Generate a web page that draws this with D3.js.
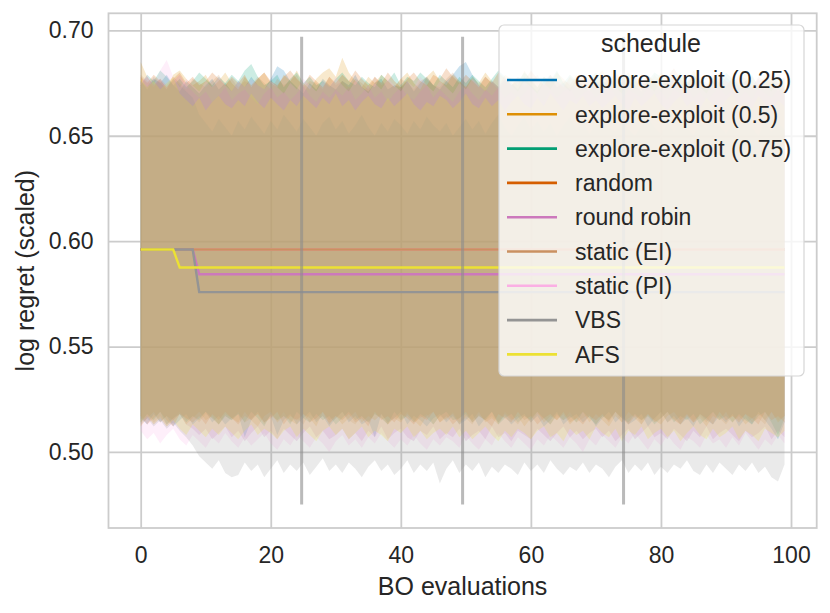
<!DOCTYPE html>
<html lang="en">
<head>
<meta charset="UTF-8">
<title>log regret per schedule</title>
<script src="https://d3js.org/d3.v7.min.js"></script>
<style>
    body{ margin:0; background:#fff; }
    svg text{ font-family:"Liberation Sans", Arial, sans-serif; fill:#262626; }
    .grid line{ stroke:#cccccc; stroke-width:1.8px; }
    .grid path{ display:none; }
    .band{ stroke:none; fill-opacity:0.2; }
    .mean{ fill:none; stroke-width:2.4px; }
</style>
</head>
<body>
<svg width="830" height="613"></svg>
<script>

// schedules, in legend order
let schedules = ["explore-exploit (0.25)", "explore-exploit (0.5)", "explore-exploit (0.75)",
    "random", "round robin", "static (EI)", "static (PI)", "VBS", "AFS"];
let colors = ["#0173b2", "#de8f05", "#029e73", "#d55e00", "#cc78bc", "#ca9161", "#fbafe4", "#949494", "#ece133"];

let xTicks = [0, 20, 40, 60, 80, 100];
let yTicks = [0.50, 0.55, 0.60, 0.65, 0.70];

// where the explore-exploit schedules switch, and how far the marker lines reach
let switchPoints = [24.75, 49.5, 74.25];
let switchSpan = [0.475, 0.697];

// mean lines, as [evaluation, log regret] corners
let meanFlat = [[0, 0.596], [99, 0.596]];
let meanRoundRobin = [[0, 0.596], [8, 0.596], [9, 0.5843], [99, 0.5843]];
let meanVBS = [[0, 0.596], [8, 0.596], [9, 0.5758], [99, 0.5758]];
let meanAFS = [[0, 0.596], [5, 0.596], [6, 0.5875], [99, 0.5875]];

// confidence bands, upper / lower, in thousandths of log regret, evaluations 0..99
let hiEE25 = [676,672,677,675,679,674,671,676,673,670, 674,677,672,675,671,676,673,678,674,672,
    677,683,681,676,673,670,675,672,677,674, 672,676,674,679,673,671,675,677,672,674,
    673,676,671,675,678,674,672,676,679,683, 685,679,674,671,676,673,677,675,672,678,
    674,671,676,679,673,675,672,677,674,671, 676,673,678,675,672,676,674,671,677,675,
    672,676,679,674,671,677,674,672,676,673, 678,675,671,676,673,677,672,675,671,674];
let loEE25 = [516,513,518,514,517,512,515,518,513,516, 519,514,517,513,516,518,507,515,519,514,
    517,508,515,518,513,516,519,514,517,512, 516,519,514,517,513,515,507,518,514,516,
    519,513,517,515,512,516,518,514,517,513, 515,518,512,516,519,514,517,513,516,518,
    514,517,512,515,519,513,516,518,514,517, 512,516,519,514,517,513,515,518,512,516,
    519,514,517,513,516,512,518,515,513,517, 514,518,512,516,513,519,515,511,506,514];

let hiEE50 = [685,678,674,677,672,679,681,677,674,676, 679,673,676,680,675,672,678,674,677,680,
    675,673,679,676,681,675,672,677,680,682, 678,687,680,676,673,678,675,679,676,673,
    677,680,675,672,678,681,676,674,679,676, 673,678,675,680,676,673,679,677,674,681,
    676,673,678,675,680,677,674,679,676,673, 678,681,675,672,677,680,676,673,679,675,
    680,677,673,678,675,681,676,674,679,677, 673,678,675,680,676,673,679,676,674,677];
let loEE50 = [512,516,519,514,517,515,518,513,516,519, 515,517,513,518,516,514,519,515,512,517,
    519,514,517,515,513,518,516,512,519,515, 517,513,516,519,514,517,515,518,513,516,
    514,518,515,512,517,519,514,516,518,513, 517,515,519,514,516,513,518,515,517,512,
    516,519,514,517,515,518,513,516,519,514, 518,515,512,517,514,519,516,513,518,515,
    513,517,519,515,518,514,516,512,517,515, 519,514,517,513,516,518,515,519,514,517];

let hiEE75 = [674,679,676,681,678,674,677,673,676,680, 677,674,678,675,679,676,681,684,678,674,
    676,679,673,677,680,675,678,674,676,673, 677,680,676,674,678,675,673,679,676,680,
    674,678,676,680,677,674,679,676,673,678, 675,679,676,673,677,681,678,674,676,680,
    677,673,678,676,681,675,679,676,673,677, 680,676,674,678,675,679,677,673,676,680,
    678,674,677,680,675,679,676,673,678,675, 680,677,674,676,679,673,677,675,678,672];
let loEE75 = [514,518,515,519,513,516,518,514,517,515, 519,516,513,517,515,518,514,519,516,512,
    518,515,517,513,519,516,514,518,515,517, 513,516,519,515,517,514,518,516,513,519,
    515,517,514,518,516,513,517,519,515,516, 518,514,517,515,519,513,516,518,514,517,
    515,519,516,513,518,515,517,514,519,516, 513,517,515,519,516,514,518,515,517,513,
    516,519,514,517,515,518,513,516,519,515, 517,514,518,515,513,517,519,514,508,516];

let hiRandom = [678,675,679,676,673,677,680,675,678,674, 676,680,677,674,678,675,679,673,677,680,
    676,674,678,681,677,674,679,676,673,678, 675,679,676,681,677,674,678,675,680,676,
    673,677,680,676,674,679,677,682,678,675, 679,676,673,678,675,680,677,674,678,676,
    681,677,674,679,676,673,678,675,679,677, 674,678,676,680,677,673,678,675,679,676,
    674,678,682,677,674,679,676,673,678,680, 676,674,679,677,673,678,676,680,675,678];
let loRandom = [517,513,516,519,515,512,518,516,514,517, 513,518,515,519,516,513,517,515,518,514,
    516,519,513,517,515,518,514,516,519,513, 517,515,518,514,516,512,519,515,517,514,
    518,516,513,517,515,519,514,517,513,516, 519,514,517,515,512,518,516,514,519,515,
    517,513,516,518,515,519,514,516,513,517, 515,518,514,519,516,513,517,515,518,514,
    516,519,515,513,517,514,518,516,513,519, 515,517,514,518,516,513,519,515,517,514];

let hiRoundRobin = [675,678,674,677,673,676,679,674,671,668, 671,666,669,673,667,670,672,668,665,670,
    673,668,671,667,670,674,669,666,671,668, 672,669,673,667,670,674,668,671,666,670,
    673,669,667,671,674,668,672,669,666,671, 674,670,667,672,669,673,668,671,667,670,
    674,669,666,672,668,671,673,667,670,672, 668,671,674,669,667,672,670,668,673,669,
    671,667,672,670,674,668,671,666,670,673, 669,672,668,671,667,673,670,668,672,669];
let loRoundRobin = [514,517,513,516,512,515,518,513,511,508, 511,506,509,512,507,510,505,509,512,507,
    510,506,511,508,505,509,512,507,510,506, 508,511,506,509,505,510,507,512,506,509,
    511,507,505,510,508,512,506,509,507,511, 505,508,510,506,512,507,509,505,510,508,
    506,511,508,505,509,512,507,510,506,509, 511,507,510,505,508,511,506,509,512,507,
    509,506,511,508,505,510,507,512,506,509, 511,508,505,510,507,509,512,506,510,507];

let hiStaticEI = [679,676,673,677,674,678,675,672,677,675, 673,676,679,674,677,673,676,674,678,675,
    672,677,674,676,679,673,676,675,672,678, 674,676,673,677,675,672,678,674,676,673,
    677,675,672,676,678,674,673,677,680,676, 673,677,674,678,675,672,676,674,677,673,
    676,679,674,677,673,676,675,672,677,674, 676,673,678,675,672,677,674,676,673,679,
    675,672,677,674,676,673,678,675,672,676, 674,677,673,676,678,674,672,677,675,673];
let loStaticEI = [515,518,514,517,513,516,519,515,517,514, 518,516,513,517,515,519,514,516,518,513,
    517,515,519,514,516,513,518,515,517,514, 516,519,515,513,517,514,518,516,513,517,
    515,519,514,516,518,513,517,515,519,514, 516,513,518,515,517,514,519,516,513,517,
    514,518,516,513,517,515,519,514,516,518, 513,517,515,519,514,516,518,513,517,515,
    519,514,516,513,518,515,517,514,519,516, 513,517,515,518,514,516,513,519,515,517];

let hiStaticPI = [675,679,674,681,686,678,673,677,674,671, 676,673,678,674,671,676,673,677,674,672,
    676,673,670,675,672,677,674,671,676,673, 678,674,671,676,673,670,675,672,677,674,
    671,676,673,678,674,671,676,673,670,675, 672,677,674,671,676,673,678,674,671,676,
    673,670,675,672,677,674,671,676,673,678, 674,671,676,673,670,675,672,677,674,671,
    676,673,678,674,671,676,673,670,675,672, 677,674,671,676,673,678,674,671,676,673];
let loStaticPI = [510,506,509,504,508,511,506,503,508,505, 502,507,504,509,505,502,507,503,506,509,
    504,501,506,503,508,505,502,507,504,500, 505,508,503,506,502,507,504,509,505,502,
    506,503,508,504,501,506,503,507,505,502, 508,504,501,506,503,509,505,502,507,504,
    501,506,503,508,505,502,507,504,500,506, 503,508,505,502,507,504,509,505,501,506,
    503,508,504,501,507,505,502,508,504,506, 502,507,503,509,505,501,506,503,508,504];

let hiVBS = [676,673,678,675,672,677,674,671,668,660, 656,652,658,654,650,657,653,659,655,651,
    657,653,660,656,652,658,654,650,656,659, 653,657,651,655,660,654,650,656,652,658,
    655,651,657,653,659,655,652,656,650,654, 658,653,657,651,656,660,654,650,655,659,
    653,657,652,656,650,655,659,653,657,651, 656,660,654,652,657,653,650,655,659,654,
    651,656,652,658,654,650,657,653,659,655, 651,656,653,658,654,650,657,652,656,653];
let loVBS = [513,516,512,515,511,514,510,507,503,498, 495,492,496,490,488,489,495,491,494,488,
    492,496,490,494,491,495,489,493,497,491, 494,490,495,492,488,493,496,491,494,489,
    492,496,490,494,491,495,485,492,496,490, 494,491,495,488,493,490,494,492,489,495,
    491,494,490,496,492,489,493,491,495,490, 494,492,488,493,496,490,494,491,495,489,
    493,490,494,492,496,491,489,494,490,495, 492,489,494,491,495,490,493,488,486,494];

let hiAFS = [677,673,676,672,675,678,670,667,664,668, 662,666,669,665,663,667,664,670,666,663,
    668,665,662,667,664,669,666,663,668,665, 670,664,667,662,666,669,665,663,668,664,
    667,670,665,662,666,664,669,667,663,666, 670,665,663,668,664,667,662,666,669,665,
    663,668,664,670,666,662,667,665,669,664, 667,663,666,669,665,662,668,664,667,670,
    665,662,666,669,664,667,663,668,665,662, 667,670,664,666,663,669,665,662,667,664];
let loAFS = [514,517,513,516,512,515,511,508,513,510, 507,511,508,512,509,506,510,513,508,511,
    509,506,510,512,507,511,508,505,510,512, 508,511,506,509,512,507,510,508,505,511,
    509,512,507,510,506,509,511,508,512,507, 510,506,509,512,508,505,510,507,511,509,
    506,510,512,507,509,505,511,508,510,506, 512,509,507,511,505,510,508,512,506,509,
    511,507,510,505,509,512,508,506,511,507, 509,512,506,510,508,505,511,509,507,510];

let highs = [hiEE25, hiEE50, hiEE75, hiRandom, hiRoundRobin, hiStaticEI, hiStaticPI, hiVBS, hiAFS];
let lows = [loEE25, loEE50, loEE75, loRandom, loRoundRobin, loStaticEI, loStaticPI, loVBS, loAFS];
let means = [meanFlat, meanFlat, meanFlat, meanFlat, meanRoundRobin, meanFlat, meanFlat, meanVBS, meanAFS];
// static (PI) line goes under static (EI), like in the figure
let lineOrder = [0, 1, 2, 3, 6, 4, 5, 7, 8];

// 1 the svg and the axes box
let svg = d3.select('svg');
let box = {left: 108.5, top: 13.3, right: 816.7, bottom: 528};
let w = box.right - box.left, h = box.bottom - box.top;

// 2 scales, with matplotlib's 5% margins
let nEval = hiEE25.length;
let xPad = 0.05 * (nEval - 1);
let xScale = d3.scaleLinear().domain([-xPad, nEval - 1 + xPad]).range([box.left, box.right]);
let yPad = 0.05 * (switchSpan[1] - switchSpan[0]);
let yScale = d3.scaleLinear().domain([switchSpan[0] - yPad, switchSpan[1] + yPad]).range([box.bottom, box.top]);

// 3 grid and tick labels
let xAxis = svg.append('g').attr('class', 'grid')
    .attr('transform', 'translate(0,' + box.bottom + ')')
    .call(d3.axisBottom(xScale).tickValues(xTicks).tickSize(-h).tickPadding(19).tickFormat(d3.format('d')));
let yAxis = svg.append('g').attr('class', 'grid')
    .attr('transform', 'translate(' + box.left + ',0)')
    .call(d3.axisLeft(yScale).tickValues(yTicks).tickSize(-w).tickPadding(15).tickFormat(d3.format('.2f')));
svg.selectAll('.grid text').style('font-size', '23px').style('fill', '#262626');

// 4 confidence bands
let fig = svg.append('g');
highs.forEach(function (hi, k) {
    let area = d3.area()
        .x(function (d, i) { return xScale(i); })
        .y0(function (d, i) { return yScale(lows[k][i] / 1000); })
        .y1(function (d) { return yScale(d / 1000); });
    fig.append('path').attr('class', 'band').attr('d', area(hi)).attr('fill', colors[k]);
});

// 5 mean lines
let line = d3.line()
    .x(function (d) { return xScale(d[0]); })
    .y(function (d) { return yScale(d[1]); });
lineOrder.forEach(function (k) {
    fig.append('path').attr('class', 'mean').attr('d', line(means[k])).attr('stroke', colors[k]);
});

// 6 switching markers
fig.selectAll('line.switch').data(switchPoints).enter().append('line')
    .attr('class', 'switch')
    .attr('x1', function (d) { return xScale(d); })
    .attr('x2', function (d) { return xScale(d); })
    .attr('y1', yScale(switchSpan[0]))
    .attr('y2', yScale(switchSpan[1]))
    .attr('stroke', '#8c8c8c').attr('stroke-opacity', 0.6).attr('stroke-width', 3);

// 7 frame
svg.append('rect').attr('x', box.left).attr('y', box.top).attr('width', w).attr('height', h)
    .attr('fill', 'none').attr('stroke', '#cccccc').attr('stroke-width', 1.8);

// 8 axis titles
svg.append('text').attr('x', (box.left + box.right) / 2).attr('y', 595)
    .attr('text-anchor', 'middle').style('font-size', '25px').text('BO evaluations');
svg.append('text').attr('transform', 'translate(34,' + (box.top + box.bottom) / 2 + ') rotate(-90)')
    .attr('text-anchor', 'middle').style('font-size', '25px').text('log regret (scaled)');

// 9 legend
let leg = svg.append('g').attr('transform', 'translate(499,25)');
leg.append('rect').attr('width', 305).attr('height', 351).attr('rx', 5)
    .attr('fill', 'white').attr('fill-opacity', 0.8).attr('stroke', '#d6d6d6').attr('stroke-width', 1.2);
leg.append('text').attr('x', 152).attr('y', 27).attr('text-anchor', 'middle')
    .style('font-size', '25px').text('schedule');
let rows = leg.selectAll('g.row').data(schedules).enter().append('g')
    .attr('class', 'row')
    .attr('transform', function (d, i) { return 'translate(0,' + (55 + i * 34.3) + ')'; });
rows.append('line').attr('x1', 8).attr('x2', 58)
    .attr('stroke', function (d, i) { return colors[i]; }).attr('stroke-width', 2.6);
rows.append('text').attr('x', 76).attr('dy', '0.36em').style('font-size', '23px')
    .text(function (d) { return d; });
</script>
</body>
</html>
